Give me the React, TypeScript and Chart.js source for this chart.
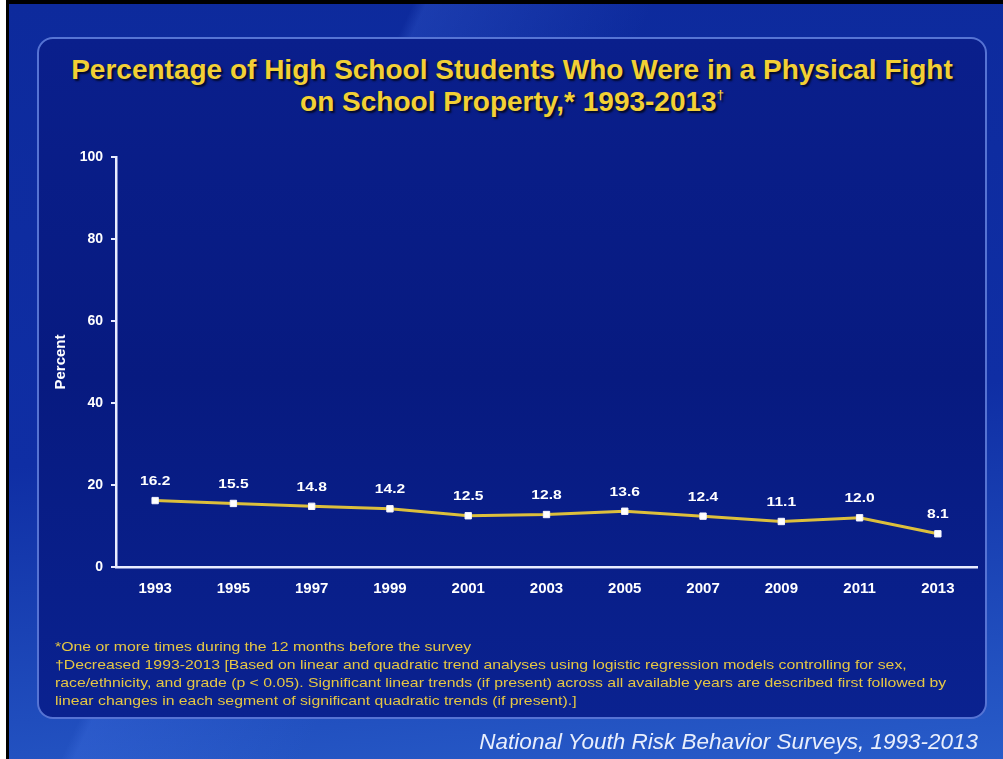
import React, { useEffect, useRef } from "react";
import { Chart, registerables } from "chart.js";

Chart.register(...registerables);

const years = ["1993", "1995", "1997", "1999", "2001", "2003", "2005", "2007", "2009", "2011", "2013"];
const percentValues = [16.2, 15.5, 14.8, 14.2, 12.5, 12.8, 13.6, 12.4, 11.1, 12.0, 8.1];
const yTicks = [0, 20, 40, 60, 80, 100];

const FONT = "'Liberation Sans', Arial, Helvetica, sans-serif";

const valueLabelPlugin = {
  id: "valueLabels",
  afterDatasetsDraw(chart: any) {
    const meta = chart.getDatasetMeta(0);
    const ctx = chart.ctx;
    ctx.save();
    ctx.font = `bold 13px ${FONT}`;
    ctx.fillStyle = "#ffffff";
    ctx.textAlign = "center";
    ctx.textBaseline = "middle";
    meta.data.forEach((pt: any, i: number) => {
      ctx.save();
      ctx.translate(pt.x, pt.y - 19);
      ctx.scale(1.2, 1);
      ctx.fillText(percentValues[i].toFixed(1), 0, 0);
      ctx.restore();
    });
    ctx.restore();
  },
};

export default function App() {
  const canvasRef = useRef<HTMLCanvasElement>(null);

  useEffect(() => {
    if (!canvasRef.current) return;
    const chart = new Chart(canvasRef.current, {
      type: "line",
      data: {
        labels: years,
        datasets: [
          {
            data: percentValues,
            borderColor: "#dcbf3c",
            borderWidth: 3,
            tension: 0,
            pointStyle: "rect",
            pointRadius: 4.5,
            pointBackgroundColor: "#ffffff",
            pointBorderColor: "#f4f4ff",
            pointBorderWidth: 1,
            order: 1,
          },
          {
            data: percentValues,
            borderColor: "rgba(255,250,225,0.8)",
            borderWidth: 1,
            tension: 0,
            pointRadius: 0,
            order: 2,
          },
        ],
      },
      options: {
        responsive: false,
        animation: false,
        devicePixelRatio: 1,
        layout: { padding: { left: 50, right: 26, top: 157, bottom: 150 } },
        plugins: { legend: { display: false }, tooltip: { enabled: false }, title: { display: false } },
        scales: {
          x: {
            type: "category",
            offset: true,
            grid: { display: false, drawTicks: false },
            border: { display: true, color: "#e8ecff", width: 2.5 },
            ticks: { color: "#ffffff", padding: 13, font: { family: FONT, size: 15, weight: "bold" } },
            afterFit: (s: any) => { s.height = 42; },
          },
          y: {
            min: 0,
            max: 100,
            afterBuildTicks: (s: any) => { s.ticks = yTicks.map((v) => ({ value: v })); },
            grid: { display: true, drawOnChartArea: false, drawTicks: true, tickLength: 5, color: "#e8ecff", lineWidth: 2 },
            border: { display: true, color: "#e8ecff", width: 2.5 },
            ticks: { color: "#ffffff", padding: 8, font: { family: FONT, size: 14, weight: "bold" } },
            title: { display: true, text: "Percent", color: "#ffffff", font: { family: FONT, size: 15, weight: "bold" }, padding: { top: 2, bottom: 4 } },
            afterFit: (s: any) => { s.width = 66; },
          },
        },
      },
      plugins: [valueLabelPlugin],
    });
    return () => chart.destroy();
  }, []);

  return (
    <div style={{ position: "absolute", left: 0, top: 0, width: 1003, height: 759, background: "#ffffff", overflow: "hidden", fontFamily: FONT }}>
      <div style={{ position: "absolute", left: 6, top: 0, width: 997, height: 759, background: "#000000" }} />
      <div
        style={{
          position: "absolute",
          left: 9,
          top: 4,
          width: 994,
          height: 755,
          background:
            "linear-gradient(115deg, rgba(255,255,255,0) 30%, rgba(90,140,255,0.18) 31%, rgba(90,140,255,0.0) 48%), linear-gradient(175deg, #0d2a9c 0%, #0f2ea4 55%, #285cc9 100%)",
        }}
      />
      <div
        style={{
          position: "absolute",
          left: 37,
          top: 37,
          width: 946,
          height: 678,
          borderRadius: 16,
          border: "2px solid rgba(100,130,225,0.85)",
          background: "linear-gradient(180deg, #0a1f8c 0%, #071a80 50%, #0a2290 100%)",
        }}
      />
      <div
        style={{
          position: "absolute",
          left: 38,
          top: 54,
          width: 948,
          textAlign: "center",
          color: "#f2d035",
          fontWeight: "bold",
          fontSize: 28,
          lineHeight: "32px",
          textShadow: "2px 2px 2px rgba(0,0,0,0.7)",
        }}
      >
        Percentage of High School Students Who Were in a Physical Fight
        <br />
        on School Property,* 1993-2013<sup style={{ fontSize: 13, verticalAlign: "top", lineHeight: "18px" }}>†</sup>
      </div>
      <canvas ref={canvasRef} width={1003} height={759} style={{ position: "absolute", left: 0, top: 0, width: 1003, height: 759 }} />
      <div
        style={{
          position: "absolute",
          left: 55,
          top: 638,
          width: 820,
          color: "#e6c744",
          fontSize: 13.5,
          lineHeight: "18px",
          transform: "scaleX(1.17)",
          transformOrigin: "left top",
          whiteSpace: "nowrap",
        }}
      >
        <div>*One or more times during the 12 months before the survey</div>
        <div>†Decreased 1993-2013 [Based on linear and quadratic trend analyses using logistic regression models controlling for sex,</div>
        <div>race/ethnicity, and grade (p &lt; 0.05). Significant linear trends (if present) across all available years are described first followed by</div>
        <div>linear changes in each segment of significant quadratic trends (if present).]</div>
      </div>
      <div
        style={{
          position: "absolute",
          right: 25,
          top: 728,
          color: "#e8eefc",
          fontStyle: "italic",
          fontSize: 22.5,
          lineHeight: "28px",
          whiteSpace: "nowrap",
        }}
      >
        National Youth Risk Behavior Surveys, 1993-2013
      </div>
    </div>
  );
}
